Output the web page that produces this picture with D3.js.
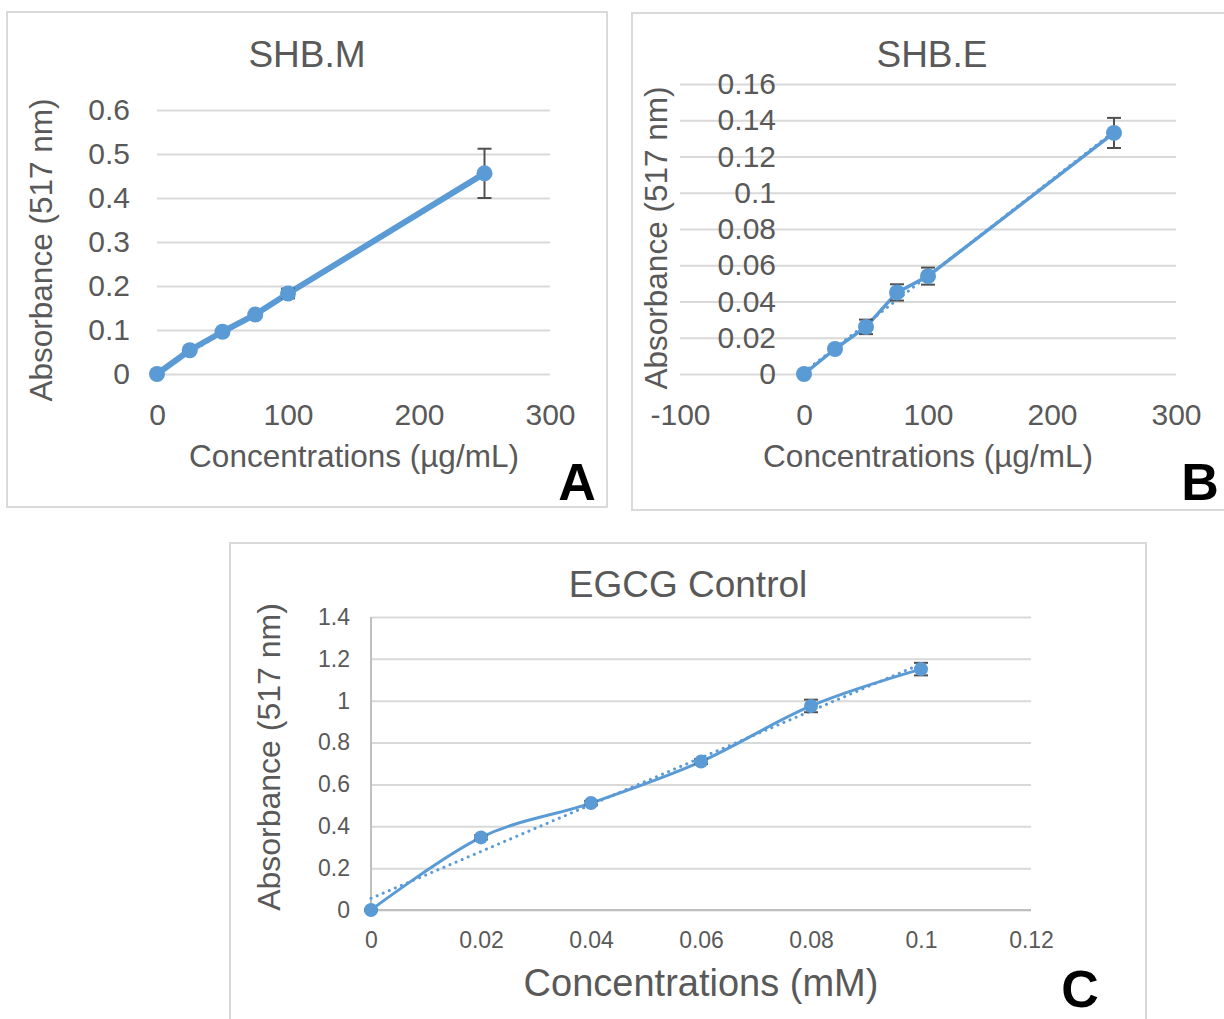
<!DOCTYPE html>
<html><head><meta charset="utf-8">
<script src="https://cdn.jsdelivr.net/npm/d3@7"></script>
<style>body{margin:0;background:#fff}svg{display:block}text{font-family:"Liberation Sans",Arial,sans-serif}</style>
</head><body>
<script>
// ---- data ----
const concA = [0, 25, 50, 75, 100, 250];
const absA  = [0, 0.054, 0.096, 0.135, 0.183, 0.456];
const errA  = [0.002, 0.003, 0.004, 0.004, 0.011, 0.056];
const concB = [0, 25, 50, 75, 100, 250];
const absB  = [0, 0.0138, 0.026, 0.045, 0.054, 0.133];
const errB  = [0.0004, 0.001, 0.004, 0.0045, 0.0047, 0.0083];
const concC = [0, 0.02, 0.04, 0.06, 0.08, 0.1];
const absC  = [0, 0.347, 0.511, 0.709, 0.975, 1.151];
const errC  = [0.004, 0.01, 0.01, 0.012, 0.03, 0.03];
const xTicksA = [0, 100, 200, 300];
const yTicksA = [0, 0.1, 0.2, 0.3, 0.4, 0.5, 0.6];
const xTicksB = [-100, 0, 100, 200, 300];
const yTicksB = [0, 0.02, 0.04, 0.06, 0.08, 0.1, 0.12, 0.14, 0.16];
const xTicksC = [0, 0.02, 0.04, 0.06, 0.08, 0.1, 0.12];
const yTicksC = [0, 0.2, 0.4, 0.6, 0.8, 1, 1.2, 1.4];
const titles = ["SHB.M", "SHB.E", "EGCG Control"];
const xTitles = ["Concentrations (µg/mL)", "Concentrations (µg/mL)", "Concentrations (mM)"];
const yTitle = "Absorbance (517 nm)";
const letters = ["A", "B", "C"];

const BLUE = "#5B9BD5", TXT = "#595959", GRID = "#d9d9d9";
const svg = d3.select("body").append("svg").attr("width", 1224).attr("height", 1019);

function linreg(xs, ys) {
  const n = xs.length, mx = d3.mean(xs), my = d3.mean(ys);
  let sxy = 0, sxx = 0;
  for (let i = 0; i < n; i++) { sxy += (xs[i]-mx)*(ys[i]-my); sxx += (xs[i]-mx)**2; }
  const b = sxy / sxx; return {b, a: my - b*mx};
}

function panel(cfg) {
  const {xs, ys, es, xTicks, yTicks} = cfg;
  svg.append("rect").attr("x", cfg.box[0]).attr("y", cfg.box[1])
    .attr("width", cfg.box[2]-cfg.box[0]).attr("height", cfg.box[3]-cfg.box[1])
    .attr("fill", "#fff").attr("stroke", GRID).attr("stroke-width", 2);
  const x = d3.scaleLinear().domain(d3.extent(xTicks)).range(cfg.xr);
  const y = d3.scaleLinear().domain(d3.extent(yTicks)).range(cfg.yr);
  const g = svg.append("g");
  // gridlines
  const grid = g.append("g").attr("transform", `translate(${cfg.xr[0]},0)`)
    .call(d3.axisLeft(y).tickValues(yTicks).tickSize(-(cfg.xr[1]-cfg.xr[0])).tickFormat(""));
  grid.select(".domain").remove();
  grid.selectAll("line").attr("stroke", GRID).attr("stroke-width", 2);
  if (cfg.axisLines) {
    g.append("line").attr("x1", x(0)).attr("x2", x(0)).attr("y1", y.range()[0]).attr("y2", y.range()[1]).attr("stroke", "#bfbfbf").attr("stroke-width", 2);
    g.append("line").attr("x1", cfg.xr[0]).attr("x2", cfg.xr[1]).attr("y1", y(0)).attr("y2", y(0)).attr("stroke", "#bfbfbf").attr("stroke-width", 2);
  }
  // y tick labels
  const ya = g.append("g").attr("transform", `translate(${x(0)},0)`)
    .call(d3.axisLeft(y).tickValues(yTicks).tickSize(0).tickPadding(cfg.yPad).tickFormat(String));
  ya.select(".domain").remove();
  ya.selectAll("text").attr("fill", TXT).style("font-size", cfg.tickFs + "px").attr("font-family", null);
  // x tick labels
  const xa = g.append("g").attr("transform", `translate(0,${y(0)})`)
    .call(d3.axisBottom(x).tickValues(xTicks).tickSize(0).tickFormat(String));
  xa.select(".domain").remove();
  xa.selectAll("text").attr("fill", TXT).style("font-size", cfg.tickFs + "px").attr("font-family", null)
    .attr("y", cfg.xBase).attr("dy", null);
  // trendline
  const {a, b} = linreg(xs, ys);
  const x0 = d3.min(xs), x1 = d3.max(xs);
  g.append("line").attr("x1", x(x0)).attr("y1", y(a + b*x0)).attr("x2", x(x1)).attr("y2", y(a + b*x1))
    .attr("stroke", BLUE).attr("stroke-width", 3).attr("stroke-dasharray", "0.1 6.5").attr("stroke-linecap", "round");
  // series line
  const pts = xs.map((v, i) => [v, ys[i]]);
  const line = d3.line().x(d => x(d[0])).y(d => y(d[1])).curve(cfg.smooth ? d3.curveCatmullRom.alpha(0) : d3.curveLinear);
  g.append("path").attr("d", line(pts)).attr("fill", "none").attr("stroke", BLUE)
    .attr("stroke-width", cfg.lw).attr("stroke-linejoin", "round");
  // error bars
  const eb = g.append("g").attr("stroke", "#505050").attr("stroke-width", 2);
  pts.forEach((d, i) => {
    const cx = x(d[0]), t = y(d[1] + es[i]), bt = y(d[1] - es[i]);
    eb.append("line").attr("x1", cx).attr("x2", cx).attr("y1", t).attr("y2", bt);
    eb.append("line").attr("x1", cx-7).attr("x2", cx+7).attr("y1", t).attr("y2", t);
    eb.append("line").attr("x1", cx-7).attr("x2", cx+7).attr("y1", bt).attr("y2", bt);
  });
  // markers
  g.selectAll("circle.m").data(pts).join("circle").attr("class", "m")
    .attr("cx", d => x(d[0])).attr("cy", d => y(d[1])).attr("r", cfg.r).attr("fill", BLUE);
  // titles
  svg.append("text").attr("x", cfg.title[0]).attr("y", cfg.title[1]).attr("text-anchor", "middle")
    .attr("fill", TXT).style("font-size", cfg.titleFs + "px").text(cfg.titleText);
  svg.append("text").attr("x", cfg.xt[0]).attr("y", cfg.xt[1]).attr("text-anchor", "middle")
    .attr("fill", TXT).style("font-size", cfg.xtFs + "px").text(cfg.xTitle);
  svg.append("text").attr("transform", `translate(${cfg.yt[0]},${cfg.yt[1]}) rotate(-90)`).attr("text-anchor", "middle")
    .attr("fill", TXT).style("font-size", cfg.ytFs + "px").text(yTitle);
  svg.append("text").attr("x", cfg.letter[0]).attr("y", cfg.letter[1]).attr("text-anchor", "middle")
    .attr("fill", "#000").style("font-size", "52px").style("font-weight", "bold").text(cfg.letterText);
}

panel({xs: concA, ys: absA, es: errA, xTicks: xTicksA, yTicks: yTicksA,
  box: [7, 12, 607, 507], xr: [157, 550], yr: [374, 110], yPad: 27, xBase: 51, tickFs: 30,
  lw: 6, r: 8, smooth: false, axisLines: false,
  title: [307, 67], titleFs: 37, titleText: titles[0],
  xt: [354, 467], xtFs: 31.5, xTitle: xTitles[0], yt: [52, 250], ytFs: 31.5,
  letter: [577, 500], letterText: letters[0]});
panel({xs: concB, ys: absB, es: errB, xTicks: xTicksB, yTicks: yTicksB,
  box: [632, 13, 1228, 510], xr: [680, 1176], yr: [374, 84], yPad: 28, xBase: 51, tickFs: 30,
  lw: 3.5, r: 8, smooth: false, axisLines: false,
  title: [932, 67], titleFs: 37, titleText: titles[1],
  xt: [928, 467], xtFs: 31.5, xTitle: xTitles[1], yt: [667, 238], ytFs: 31.5,
  letter: [1200, 500], letterText: letters[1]});
panel({xs: concC, ys: absC, es: errC, xTicks: xTicksC, yTicks: yTicksC,
  box: [230, 543, 1146, 1024], xr: [371, 1031], yr: [910, 617], yPad: 21, xBase: 38, tickFs: 23,
  lw: 3, r: 7, smooth: true, axisLines: true,
  title: [688, 597], titleFs: 37, titleText: titles[2],
  xt: [701, 996], xtFs: 38, xTitle: xTitles[2], yt: [280, 757], ytFs: 32,
  letter: [1080, 1007], letterText: letters[2]});
</script>
</body></html>
